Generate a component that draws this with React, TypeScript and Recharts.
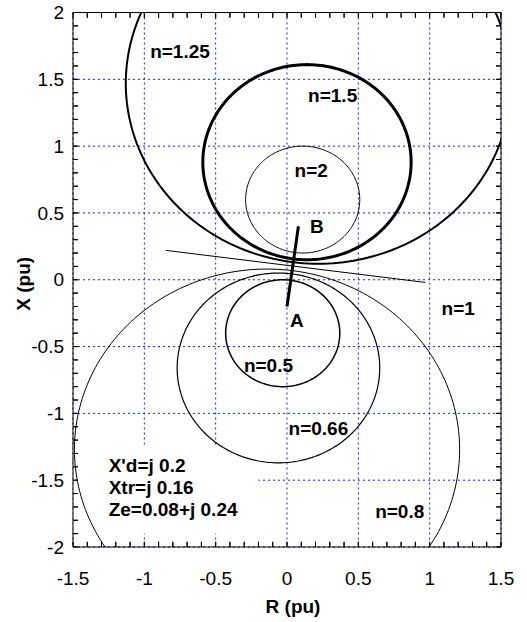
import {
  CartesianGrid,
  ComposedChart,
  ReferenceArea,
  ReferenceDot,
  ReferenceLine,
  Scatter,
  XAxis,
  YAxis,
} from "recharts";

// constant-n swing loci, each one a circle in the R-X plane (pu)
const ratios = ["2", "1.5", "1.25", "0.5", "0.66", "0.8"];
const centreR = [0.11, 0.14, 0.22, -0.03, -0.06, -0.14];
const centreX = [0.6, 0.88, 1.47, -0.4, -0.66, -1.27];
const radii = [0.4, 0.73, 1.35, 0.4, 0.71, 1.35];

// n=1 locus is a straight line (perpendicular bisector of AB)
const bisectorR = [-0.85, 0.97];
const bisectorX = [0.22, -0.02];

// total system impedance A -> B
const impedanceR = [0, 0.08];
const impedanceX = [-0.2, 0.4];

const rTicks = [-1.5, -1, -0.5, 0, 0.5, 1, 1.5];
const xTicks = [-2, -1.5, -1, -0.5, 0, 0.5, 1, 1.5, 2];

const notes = [
  { text: "n=1.25", r: -0.75, x: 1.71 },
  { text: "n=1.5", r: 0.32, x: 1.38 },
  { text: "n=2", r: 0.17, x: 0.82 },
  { text: "B", r: 0.21, x: 0.4 },
  { text: "A", r: 0.07, x: -0.3 },
  { text: "n=1", r: 1.2, x: -0.21 },
  { text: "n=0.5", r: -0.13, x: -0.64 },
  { text: "n=0.66", r: 0.22, x: -1.11 },
  { text: "n=0.8", r: 0.79, x: -1.73 },
];

const params = ["X'd=j 0.2", "Xtr=j 0.16", "Ze=0.08+j 0.24"];
const paramX = [-1.39, -1.55, -1.72];

const lociWidth = [1, 3, 2, 1.5, 1.2, 1];

const FONT = "'Liberation Sans', Arial, sans-serif";

// minor tick positions every 0.1 pu
const minorR = Array.from({ length: 31 }, (_, i) => Math.round((-1.5 + i * 0.1) * 10) / 10);
const minorX = Array.from({ length: 41 }, (_, i) => Math.round((-2 + i * 0.1) * 10) / 10);

// tick length expressed in axis units
const TICK_R = 0.035;
const TICK_X = 0.04;

// trace a circle as a closed polyline
const tracePoints = (cr: number, cx: number, rad: number) =>
  Array.from({ length: 241 }, (_, i) => {
    const t = (i / 240) * 2 * Math.PI;
    return { r: cr + rad * Math.cos(t), x: cx + rad * Math.sin(t) };
  });

const pairPoints = (rs: number[], xs: number[]) => rs.map((r, i) => ({ r, x: xs[i] }));

const NoDot = () => null;

// short inward tick marks, drawn at points on the frame
const TICK = 5;
const tickUp = (p: any) => <line x1={p.cx} y1={p.cy} x2={p.cx} y2={p.cy - TICK} stroke="#000" />;
const tickDown = (p: any) => <line x1={p.cx} y1={p.cy} x2={p.cx} y2={p.cy + TICK} stroke="#000" />;
const tickRight = (p: any) => <line x1={p.cx} y1={p.cy} x2={p.cx + TICK} y2={p.cy} stroke="#000" />;
const tickLeft = (p: any) => <line x1={p.cx} y1={p.cy} x2={p.cx - TICK} y2={p.cy} stroke="#000" />;

const labelStyle = {
  fill: "#000",
  fontSize: 19,
  fontWeight: "bold",
  fontFamily: FONT,
};

const tickStyle = { fill: "#000", fontSize: 19, fontFamily: FONT };
const blackLine = { stroke: "#000" };

const YTitle = (props: any) => {
  const { viewBox } = props;
  const x = viewBox.x - 3;
  const y = viewBox.y + viewBox.height / 2 + 4;
  return (
    <text
      x={x}
      y={y}
      transform={`rotate(-90 ${x} ${y})`}
      textAnchor="middle"
      {...labelStyle}
    >
      X (pu)
    </text>
  );
};

export default function App() {
  return (
    <div style={{ position: "absolute", left: 0, top: 0 }}>
      <ComposedChart
        width={527}
        height={622}
        margin={{ top: 11.5, right: 25, bottom: 0, left: 33 }}
      >
        <CartesianGrid
          stroke="#1a1aff"
          strokeDasharray="2 3"
          verticalValues={rTicks}
          horizontalValues={xTicks}
        />
        <ReferenceArea
          x1={-1.5}
          x2={-0.2}
          y1={-1.9}
          y2={-1.25}
          fill="#fff"
          fillOpacity={1}
          stroke="none"
        />

        <XAxis
          dataKey="r"
          type="number"
          domain={[-1.5, 1.5]}
          ticks={rTicks}
          interval={0}
          allowDataOverflow
          height={75}
          tickLine={false}
          axisLine={blackLine}
          tickSize={0}
          tickMargin={24.5}
          tick={tickStyle}
          label={{
            value: "R (pu)",
            position: "insideBottom",
            offset: 8.7,
            dx: 6,
            ...labelStyle,
          }}
        />
        <YAxis
          dataKey="x"
          type="number"
          domain={[-2, 2]}
          ticks={xTicks}
          interval={0}
          allowDataOverflow
          width={40}
          tickLine={false}
          axisLine={blackLine}
          tickSize={0}
          tickMargin={9}
          tick={tickStyle}
          label={{ content: YTitle }}
        />

        {/* top and right edges of the frame */}
        <XAxis xAxisId="top" dataKey="r" orientation="top" type="number" height={1}
          domain={[-1.5, 1.5]} allowDataOverflow ticks={rTicks} interval={0}
          tick={false} tickLine={false} axisLine={blackLine} />
        <YAxis yAxisId="right" dataKey="x" orientation="right" type="number" width={1}
          domain={[-2, 2]} allowDataOverflow ticks={xTicks} interval={0}
          tick={false} tickLine={false} axisLine={blackLine} />

        {/* minor ticks every 0.1 pu on all four sides */}
        {minorR.map((r) => (
          <ReferenceLine key={`tb-${r}`} segment={[{ x: r, y: -2 }, { x: r, y: -2 + TICK_X }]}
            stroke="#000" ifOverflow="visible" />
        ))}
        {minorR.map((r) => (
          <ReferenceLine key={`tt-${r}`} segment={[{ x: r, y: 2 }, { x: r, y: 2 - TICK_X }]}
            stroke="#000" ifOverflow="visible" />
        ))}
        {minorX.map((x) => (
          <ReferenceLine key={`tl-${x}`} segment={[{ x: -1.5, y: x }, { x: -1.5 + TICK_R, y: x }]}
            stroke="#000" ifOverflow="visible" />
        ))}
        {minorX.map((x) => (
          <ReferenceLine key={`tr-${x}`} segment={[{ x: 1.5, y: x }, { x: 1.5 - TICK_R, y: x }]}
            stroke="#000" ifOverflow="visible" />
        ))}
        <Scatter name="ticks-bottom" data={minorR.map((r) => ({ r, x: -2 }))}
          shape={tickUp} isAnimationActive={false} legendType="none" />
        <Scatter name="ticks-top" data={minorR.map((r) => ({ r, x: 2 }))}
          shape={tickDown} isAnimationActive={false} legendType="none" />
        <Scatter name="ticks-left" data={minorX.map((x) => ({ r: -1.5, x }))}
          shape={tickRight} isAnimationActive={false} legendType="none" />
        <Scatter name="ticks-right" data={minorX.map((x) => ({ r: 1.5, x }))}
          shape={tickLeft} isAnimationActive={false} legendType="none" />

        {ratios.map((n, i) => (
          <Scatter
            key={`locus-${n}`}
            name={`n=${n}`}
            data={tracePoints(centreR[i], centreX[i], radii[i])}
            line={{ stroke: "#000", strokeWidth: lociWidth[i] }}
            shape={NoDot}
            fill="none"
            isAnimationActive={false}
          />
        ))}
        <Scatter
          name="n=1"
          xAxisId="top"
          yAxisId="right"
          data={pairPoints(bisectorR, bisectorX)}
          line={{ stroke: "#000", strokeWidth: 1 }}
          shape={NoDot}
          fill="none"
          isAnimationActive={false}
        />
        <Scatter
          name="AB"
          data={pairPoints(impedanceR, impedanceX)}
          line={{ stroke: "#000", strokeWidth: 3 }}
          shape={NoDot}
          fill="none"
          isAnimationActive={false}
        />

        {notes.map((note) => (
          <ReferenceDot
            key={note.text}
            x={note.r}
            y={note.x}
            r={0}
            fill="none"
            stroke="none"
            label={{ value: note.text, position: "center", ...labelStyle }}
          />
        ))}
        {params.map((text, i) => (
          <ReferenceDot
            key={text}
            x={-1.25}
            y={paramX[i]}
            r={0}
            fill="none"
            stroke="none"
            label={{ value: text, position: "right", offset: 0, ...labelStyle }}
          />
        ))}
      </ComposedChart>
    </div>
  );
}
